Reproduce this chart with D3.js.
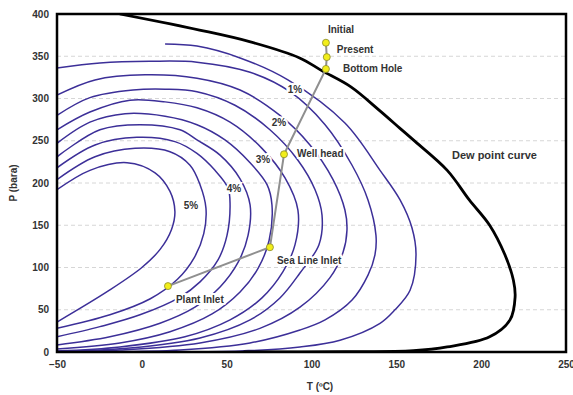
<!DOCTYPE html>
<html>
<head>
<meta charset="utf-8">
<script src="https://cdn.jsdelivr.net/npm/d3@7"></script>
<style>
  body { margin: 0; background: #fff; }
  text { font-family: "Liberation Sans", Arial, sans-serif; }
</style>
</head>
<body>
<div id="chart"></div>
<script>
// axis ticks
const tempTicks = [-50, 0, 50, 100, 150, 200, 250];
const pressTicks = [0, 50, 100, 150, 200, 250, 300, 350, 400];
const gridTicks = [50, 100, 150, 200, 250, 300, 350];

// dew point curve [T, P]
const dewCurve = [[-13, 400], [34, 381], [64, 367], [93, 348], [106, 333], [123, 314], [140, 286], [152, 265],
  [160, 251], [180, 215], [193, 180], [205, 150], [214, 115], [219, 85], [220, 65], [217, 38], [205, 18],
  [180, 6], [160, 1.5], [120, 0.3], [60, 0]];

// liquid dropout lines, outermost to innermost [T, P]
const curve1 = [[13.7, 364.5], [32.5, 362], [57.9, 348], [86.1, 322], [119.7, 271], [140.4, 215], [152.2, 180],
  [159.2, 147], [161.6, 115], [158.1, 73], [149.2, 50], [140.4, 34], [116.8, 14], [93.2, 6], [57.9, 1.2], [16.6, 0.3]];
const curve2 = [[-50, 336], [-24.7, 342], [4.8, 344], [32.5, 343], [63.8, 331], [87.3, 308], [108, 269],
  [123.9, 221], [133.3, 180], [138, 138], [137.4, 115], [133.3, 91], [123.9, 61.5], [108, 38], [93.2, 26],
  [63.8, 10.7], [22.5, 2.4], [-18.8, 0.5]];
const curve3 = [[-50, 304], [-27.6, 322], [1.9, 328], [32.5, 324], [57.9, 310], [81.4, 280], [99.1, 245],
  [112.7, 204], [119.7, 168], [120.9, 144], [118.6, 118], [110.9, 88], [93.2, 53], [69.6, 28], [34.3, 10.7],
  [-12.9, 2.4], [-50, 0.4]];
const curve4 = [[-50, 280], [-30.6, 301], [-5.2, 310], [13.7, 311], [32.5, 308], [54.9, 292], [75.5, 263],
  [92, 227], [102.1, 192], [106.2, 162], [104.4, 127], [93.2, 93.5], [81.4, 64], [63.8, 38], [34.3, 16.6],
  [-7, 4.7], [-50, 0.8]];
const curve5 = [[-50, 263], [-30.6, 284], [-7, 298], [13.7, 296], [32.5, 289], [52, 272], [70.8, 241],
  [84.4, 206], [92, 168], [90.3, 127], [83.2, 95], [70.8, 64], [52, 38], [25.4, 18], [-12.9, 6], [-50, 1.2]];
const curve6 = [[-50, 247], [-30.6, 272], [-9.9, 282], [13.7, 279], [32.5, 269], [49, 251], [63.8, 224],
  [73.8, 198], [76.7, 174], [75, 132], [68.5, 99], [57.9, 71], [41.4, 45], [16.6, 24], [-12.9, 10.7], [-50, 3.6]];
const curve7 = [[-50, 231], [-24.7, 263], [-1.1, 269], [22.5, 263], [32.5, 251], [46.1, 233], [57.9, 205],
  [63.8, 174], [62.6, 138], [56.7, 106], [46.1, 77], [31.3, 53], [10.7, 34], [-18.8, 18], [-50, 8.3]];
const curve8 = [[-50, 218], [-27.6, 245], [-2.9, 254], [19.5, 249], [32.5, 235], [43.1, 215], [50.8, 194],
  [52, 174], [50.2, 138], [44.9, 109], [34.3, 83], [22.5, 65], [-1.1, 44], [-24.7, 30], [-50, 18]];
const curve9 = [[-50, 204], [-27.6, 231], [-4, 241], [16.6, 237], [28.4, 221], [34.3, 198], [37.8, 170],
  [36.5, 140], [31, 112], [21, 86], [5, 63], [-18.8, 44], [-50, 28]];
const curve10 = [[-50, 192], [-30.6, 215], [-8.7, 224], [7.8, 212], [16.6, 190], [19.5, 166], [17.5, 145],
  [11, 122], [0, 100], [-20, 72], [-50, 35.5]];
const liquidCurves = [curve1, curve2, curve3, curve4, curve5, curve6, curve7, curve8, curve9, curve10];

// labels on the dropout lines
const pctLabels = ['1%', '2%', '3%', '4%', '5%'];
const pctPos = [[90.3, 310], [80.8, 271], [71.4, 227], [54.3, 192], [29, 172]];

// production path points
const pathNames = ['Plant Inlet', 'Sea Line Inlet', 'Well head', 'Bottom Hole', 'Present', 'Initial'];
const pathT = [15.4, 75.5, 83.8, 108.5, 109, 108.5];
const pathP = [78, 124, 234, 335, 349, 366];
const pathLabelOffset = [[8, 14], [7, 14], [13, 0], [17, 0], [10, -7], [2, -12]];

const W = 573, H = 395;
const margin = { top: 14, right: 7, bottom: 43, left: 57 };

const svg = d3.select('#chart').append('svg')
  .attr('width', W)
  .attr('height', H);

const x = d3.scaleLinear().domain([-50, 250]).range([margin.left, W - margin.right]);
const y = d3.scaleLinear().domain([0, 400]).range([H - margin.bottom, margin.top]);

svg.append('defs').append('clipPath').attr('id', 'plot')
  .append('rect')
  .attr('x', x(-50)).attr('y', y(400))
  .attr('width', x(250) - x(-50)).attr('height', y(0) - y(400));

// grid
svg.append('g').selectAll('line')
  .data(gridTicks)
  .enter().append('line')
  .attr('x1', x(-50)).attr('x2', x(250))
  .attr('y1', d => y(d)).attr('y2', d => y(d))
  .attr('stroke', '#d6d6d6')
  .attr('stroke-dasharray', '4,3');

// axes
const xAxis = d3.axisBottom(x).tickValues(tempTicks).tickSize(0).tickPadding(9);
const yAxis = d3.axisLeft(y).tickValues(pressTicks).tickSize(0).tickPadding(8);

const gx = svg.append('g')
  .attr('transform', `translate(0,${y(0)})`)
  .call(xAxis);
const gy = svg.append('g')
  .attr('transform', `translate(${x(-50)},0)`)
  .call(yAxis);
[gx, gy].forEach(g => {
  g.select('.domain').remove();
  g.selectAll('text')
    .style('font-size', '10px')
    .style('font-weight', 'bold')
    .attr('fill', '#333');
});

svg.append('text')
  .attr('transform', 'rotate(-90)')
  .attr('x', -183)
  .attr('y', 17)
  .style('text-anchor', 'middle')
  .style('font-size', '10px')
  .style('font-weight', 'bold')
  .attr('fill', '#333')
  .text('P (bara)');

svg.append('text')
  .attr('x', 320)
  .attr('y', 390)
  .style('text-anchor', 'middle')
  .style('font-size', '10px')
  .style('font-weight', 'bold')
  .attr('fill', '#333')
  .text('T (ºC)');

const plot = svg.append('g').attr('clip-path', 'url(#plot)');

const line = d3.line()
  .x(d => x(d[0]))
  .y(d => y(d[1]))
  .curve(d3.curveCatmullRom.alpha(0.5));

plot.selectAll('.liq')
  .data(liquidCurves)
  .enter().append('path')
  .attr('class', 'liq')
  .attr('d', line)
  .attr('fill', 'none')
  .attr('stroke', '#3c2f98')
  .attr('stroke-width', 1.5);

plot.append('path')
  .datum(dewCurve)
  .attr('d', line)
  .attr('fill', 'none')
  .attr('stroke', '#000')
  .attr('stroke-width', 2.8);

const labelStyle = sel => sel
  .style('font-size', '10px')
  .style('font-weight', 'bold')
  .attr('fill', '#333')
  .attr('stroke', '#fff')
  .attr('stroke-width', 4)
  .attr('paint-order', 'stroke')
  .attr('dominant-baseline', 'middle');

svg.selectAll('.pct')
  .data(pctLabels)
  .enter().append('text')
  .attr('class', 'pct')
  .attr('x', (d, i) => x(pctPos[i][0]))
  .attr('y', (d, i) => y(pctPos[i][1]))
  .style('text-anchor', 'middle')
  .call(labelStyle)
  .text(d => d);

// production path
const pathPts = pathT.map((t, i) => [t, pathP[i]]);
svg.append('path')
  .datum(pathPts)
  .attr('d', d3.line().x(d => x(d[0])).y(d => y(d[1])))
  .attr('fill', 'none')
  .attr('stroke', '#8f8f8f')
  .attr('stroke-width', 2);

svg.selectAll('.pt')
  .data(pathPts)
  .enter().append('circle')
  .attr('class', 'pt')
  .attr('cx', d => x(d[0]))
  .attr('cy', d => y(d[1]))
  .attr('r', 3.5)
  .attr('fill', '#f2ee1a')
  .attr('stroke', '#8a8a2a')
  .attr('stroke-width', 0.8);

svg.selectAll('.ptlabel')
  .data(pathNames)
  .enter().append('text')
  .attr('class', 'ptlabel')
  .attr('x', (d, i) => x(pathT[i]) + pathLabelOffset[i][0])
  .attr('y', (d, i) => y(pathP[i]) + pathLabelOffset[i][1])
  .call(labelStyle)
  .text(d => d);

svg.append('text')
  .attr('x', x(182.8))
  .attr('y', y(232))
  .call(labelStyle)
  .style('font-size', '11px')
  .text('Dew point curve');

// frame
svg.append('rect')
  .attr('x', x(-50))
  .attr('y', y(400))
  .attr('width', x(250) - x(-50))
  .attr('height', y(0) - y(400))
  .attr('fill', 'none')
  .attr('stroke', '#000')
  .attr('stroke-width', 2.5);
</script>
</body>
</html>
